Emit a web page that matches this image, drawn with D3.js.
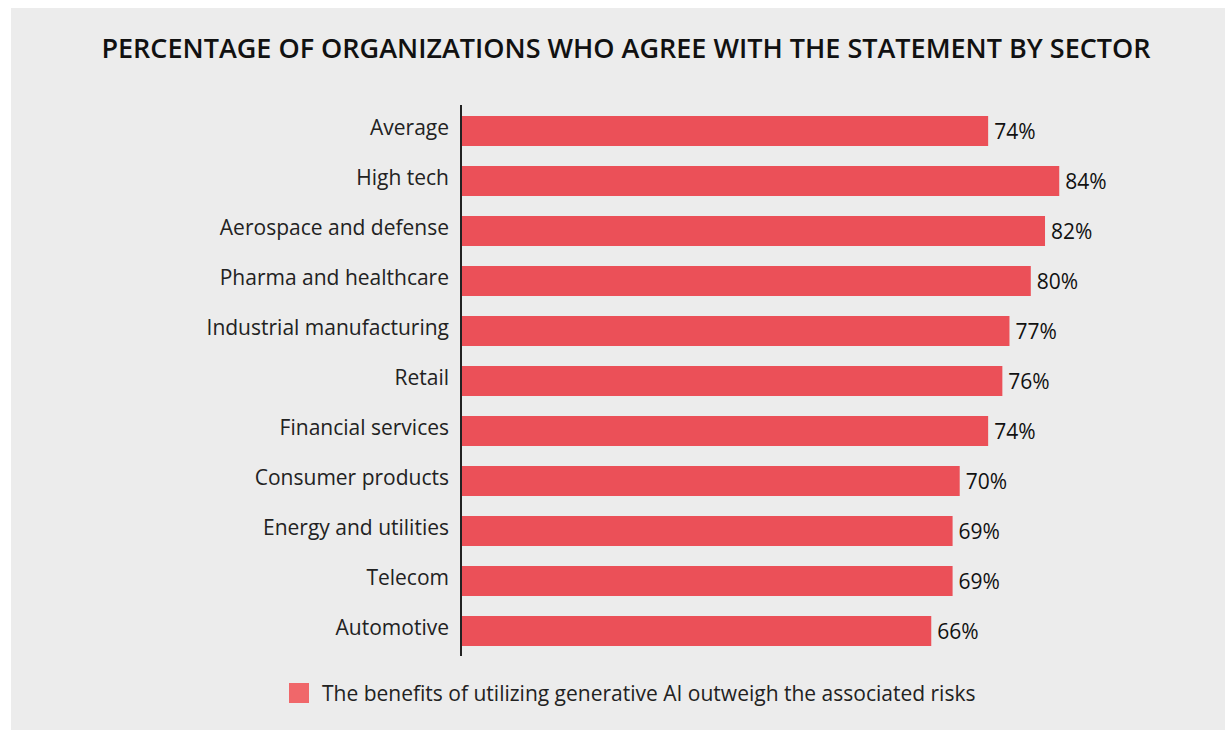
<!DOCTYPE html>
<html>
<head>
<meta charset="utf-8">
<script src="https://cdn.jsdelivr.net/npm/d3@7"></script>
<style>
  body { margin: 0; background: #fff; }
  svg text { font-family: "Open Sans", sans-serif; }
</style>
</head>
<body>
<div id="chart"></div>
<script>
// sectors, top to bottom
var sectors = ["Average", "High tech", "Aerospace and defense", "Pharma and healthcare",
  "Industrial manufacturing", "Retail", "Financial services ", "Consumer products",
  "Energy and utilities", "Telecom", "Automotive"];
var agreeShare = [74, 84, 82, 80, 77, 76, 74, 70, 69, 69, 66];
var chartTitle = "PERCENTAGE OF ORGANIZATIONS WHO AGREE WITH THE STATEMENT BY SECTOR";
var legendLabel = "The benefits of utilizing generative AI outweigh the associated risks";

var width = 1225;
var height = 730;
var barColor = "#eb5058";

var rows = sectors.map(function(s, i) { return {sector: s, value: agreeShare[i]}; });

var svg = d3.select("#chart")
  .append("svg")
  .attr("width", width)
  .attr("height", height);

// grey panel
svg.append("rect")
  .attr("x", 11).attr("y", 8)
  .attr("width", width - 11).attr("height", height - 8)
  .attr("fill", "#ececec");

/* Scale */
var xScale = d3.scaleLinear()
  .domain([0, 100])
  .range([462, 1173]);

var yScale = d3.scaleBand()
  .domain(sectors)
  .range([106, 656])
  .paddingInner(0.4)
  .paddingOuter(0.2);

svg.append("text")
  .attr("x", 626)
  .attr("y", 58)
  .attr("text-anchor", "middle")
  .style("font-size", "27px")
  .style("font-weight", "600")
  .attr("fill", "#111")
  .text(chartTitle);

svg.selectAll(".bar")
  .data(rows).enter()
  .append("rect")
  .attr("class", "bar")
  .attr("x", xScale(0))
  .attr("y", d => yScale(d.sector))
  .attr("width", d => xScale(d.value) - xScale(0))
  .attr("height", yScale.bandwidth())
  .attr("fill", barColor);

svg.selectAll(".val")
  .data(rows).enter()
  .append("text")
  .attr("class", "val")
  .attr("x", d => xScale(d.value) + 6)
  .attr("y", d => yScale(d.sector) + yScale.bandwidth() / 2)
  .attr("dy", "0.36em")
  .style("font-size", "21px")
  .attr("fill", "#111")
  .text(d => d.value + "%");

/* Axis */
var yAxis = d3.axisLeft(yScale).tickSize(0).tickPadding(12);

var axisG = svg.append("g")
  .attr("transform", "translate(461, 0)")
  .call(yAxis);

axisG.select(".domain")
  .attr("d", "M0,105V656")
  .attr("stroke", "#222")
  .attr("stroke-width", 2);

axisG.selectAll(".tick text")
  .style("font-size", "21px")
  .style("font-family", "'Open Sans', sans-serif")
  .attr("fill", "#222")
  .attr("dy", "0.2em");

/* Legend */
var legend = svg.append("g")
  .attr("transform", "translate(289, 683)");

legend.append("rect")
  .attr("width", 20).attr("height", 20)
  .attr("fill", "#f0676a");

legend.append("text")
  .attr("x", 33)
  .attr("y", 10)
  .attr("dy", "0.36em")
  .style("font-size", "21px")
  .attr("fill", "#222")
  .text(legendLabel);
</script>
</body>
</html>
